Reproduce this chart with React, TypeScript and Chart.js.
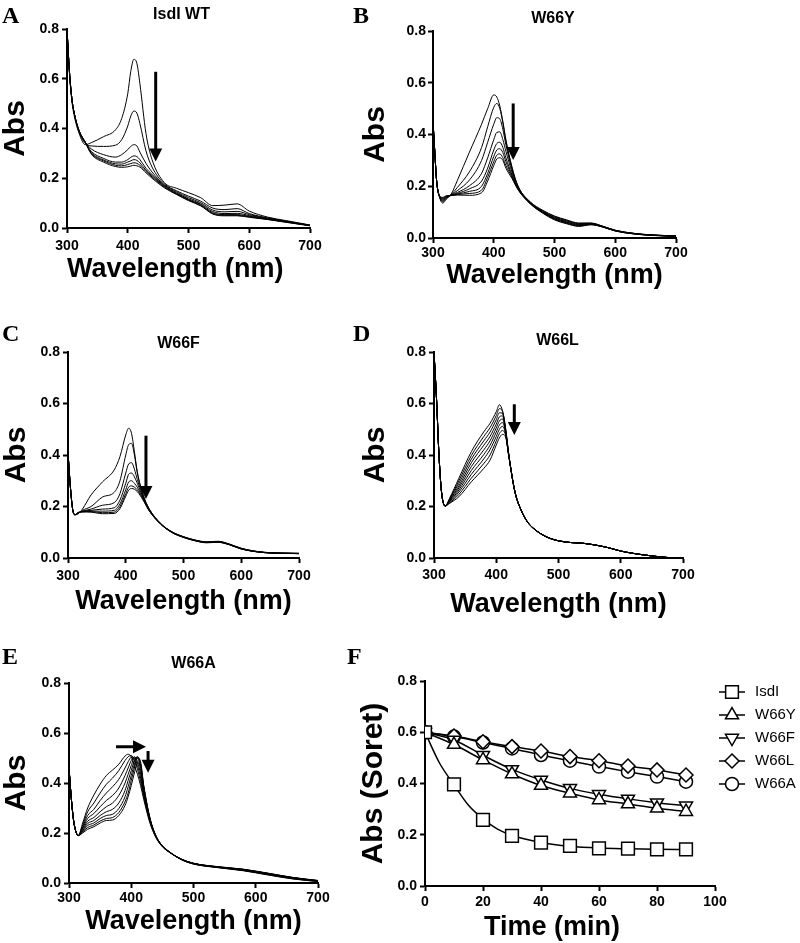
import React, { useEffect, useRef } from "react";
import { Chart, registerables } from "chart.js";

Chart.register(...registerables);

const SANS = "'Liberation Sans', Arial, Helvetica, sans-serif";
const SERIF = "'Liberation Serif', 'Times New Roman', Times, serif";

// ---------------- tick labels ----------------
const ABS_TICKS = [0, 0.2, 0.4, 0.6, 0.8];
const WL_TICKS = [300, 400, 500, 600, 700];
const TIME_TICKS = [0, 20, 40, 60, 80, 100];

// ---------------- Panel A: IsdI WT ----------------
const WL_A = [300, 304, 308, 312, 320, 330, 340, 360, 380, 390, 400, 405, 410, 415, 420, 430, 440, 460, 480, 500, 520, 540, 560, 580, 600, 630, 660, 700];
const A_1 = [0.80, 0.62, 0.51, 0.45, 0.38, 0.335, 0.343, 0.367, 0.395, 0.44, 0.54, 0.63, 0.678, 0.662, 0.58, 0.38, 0.275, 0.183, 0.16, 0.142, 0.122, 0.09, 0.092, 0.097, 0.068, 0.044, 0.03, 0.012];
const A_2 = [0.80, 0.63, 0.52, 0.46, 0.385, 0.34, 0.33, 0.328, 0.333, 0.355, 0.41, 0.45, 0.47, 0.462, 0.42, 0.31, 0.245, 0.178, 0.15, 0.128, 0.108, 0.08, 0.074, 0.078, 0.058, 0.041, 0.028, 0.011];
const A_3 = [0.80, 0.63, 0.52, 0.46, 0.39, 0.345, 0.318, 0.295, 0.285, 0.295, 0.315, 0.328, 0.335, 0.33, 0.305, 0.26, 0.225, 0.174, 0.146, 0.122, 0.102, 0.072, 0.065, 0.067, 0.054, 0.039, 0.027, 0.011];
const A_4 = [0.80, 0.63, 0.52, 0.46, 0.39, 0.345, 0.308, 0.28, 0.265, 0.265, 0.275, 0.284, 0.29, 0.287, 0.275, 0.24, 0.215, 0.171, 0.142, 0.117, 0.097, 0.066, 0.058, 0.059, 0.05, 0.037, 0.026, 0.01];
const A_5 = [0.80, 0.63, 0.52, 0.46, 0.39, 0.345, 0.303, 0.274, 0.258, 0.257, 0.265, 0.27, 0.275, 0.272, 0.262, 0.232, 0.21, 0.168, 0.139, 0.114, 0.094, 0.061, 0.054, 0.054, 0.047, 0.036, 0.025, 0.01];
const A_6 = [0.80, 0.63, 0.52, 0.46, 0.39, 0.345, 0.3, 0.27, 0.252, 0.25, 0.255, 0.259, 0.262, 0.26, 0.252, 0.227, 0.205, 0.165, 0.137, 0.112, 0.091, 0.058, 0.051, 0.051, 0.045, 0.035, 0.024, 0.009];
const A_7 = [0.80, 0.63, 0.52, 0.46, 0.39, 0.345, 0.297, 0.265, 0.247, 0.244, 0.246, 0.249, 0.252, 0.25, 0.245, 0.222, 0.2, 0.162, 0.135, 0.11, 0.089, 0.056, 0.049, 0.049, 0.043, 0.034, 0.023, 0.009];
const ARROWS_A = [[446, 0.628, 446, 0.267]];

// ---------------- Panel B: W66Y ----------------
const WL_B = [300, 303, 306, 310, 316, 322, 330, 340, 360, 380, 390, 400, 405, 410, 415, 420, 430, 440, 460, 480, 500, 520, 540, 560, 580, 600, 630, 660, 700];
const B_1 = [0.45, 0.33, 0.22, 0.165, 0.135, 0.15, 0.17, 0.222, 0.332, 0.44, 0.5, 0.553, 0.545, 0.51, 0.45, 0.38, 0.275, 0.2, 0.14, 0.108, 0.085, 0.07, 0.058, 0.058, 0.045, 0.03, 0.018, 0.012, 0.008];
const B_2 = [0.45, 0.33, 0.22, 0.165, 0.14, 0.153, 0.168, 0.195, 0.256, 0.35, 0.43, 0.505, 0.52, 0.5, 0.445, 0.375, 0.27, 0.2, 0.138, 0.106, 0.083, 0.068, 0.056, 0.057, 0.045, 0.03, 0.018, 0.012, 0.008];
const B_3 = [0.45, 0.33, 0.22, 0.165, 0.144, 0.156, 0.167, 0.183, 0.224, 0.3, 0.37, 0.44, 0.465, 0.46, 0.42, 0.36, 0.265, 0.198, 0.137, 0.104, 0.08, 0.066, 0.054, 0.056, 0.044, 0.029, 0.018, 0.011, 0.008];
const B_4 = [0.45, 0.33, 0.22, 0.165, 0.147, 0.158, 0.166, 0.176, 0.202, 0.25, 0.31, 0.38, 0.408, 0.41, 0.38, 0.335, 0.255, 0.195, 0.136, 0.102, 0.078, 0.063, 0.052, 0.055, 0.044, 0.029, 0.017, 0.011, 0.007];
const B_5 = [0.45, 0.33, 0.22, 0.165, 0.15, 0.16, 0.165, 0.172, 0.19, 0.22, 0.27, 0.34, 0.365, 0.37, 0.35, 0.31, 0.245, 0.192, 0.135, 0.1, 0.076, 0.061, 0.05, 0.054, 0.043, 0.028, 0.017, 0.011, 0.007];
const B_6 = [0.45, 0.33, 0.22, 0.165, 0.152, 0.161, 0.165, 0.17, 0.18, 0.2, 0.25, 0.315, 0.34, 0.345, 0.33, 0.295, 0.24, 0.19, 0.134, 0.099, 0.074, 0.059, 0.048, 0.053, 0.043, 0.028, 0.017, 0.011, 0.007];
const B_7 = [0.45, 0.33, 0.22, 0.165, 0.155, 0.162, 0.164, 0.168, 0.172, 0.185, 0.235, 0.295, 0.32, 0.325, 0.31, 0.28, 0.235, 0.188, 0.133, 0.098, 0.072, 0.057, 0.046, 0.052, 0.042, 0.027, 0.016, 0.01, 0.007];
const B_8 = [0.45, 0.33, 0.22, 0.165, 0.157, 0.163, 0.164, 0.166, 0.165, 0.175, 0.22, 0.28, 0.305, 0.31, 0.3, 0.27, 0.23, 0.186, 0.132, 0.097, 0.07, 0.055, 0.045, 0.051, 0.042, 0.027, 0.016, 0.01, 0.007];
const ARROWS_B = [[432, 0.52, 432, 0.301]];

// ---------------- Panel C: W66F ----------------
const WL_C = [300, 304, 308, 312, 318, 325, 340, 360, 380, 390, 400, 405, 410, 415, 420, 430, 440, 460, 480, 500, 520, 540, 560, 580, 600, 640, 700];
const C_1 = [0.41, 0.28, 0.19, 0.168, 0.172, 0.19, 0.245, 0.296, 0.342, 0.394, 0.478, 0.504, 0.484, 0.413, 0.335, 0.245, 0.193, 0.135, 0.102, 0.083, 0.07, 0.063, 0.065, 0.054, 0.038, 0.022, 0.018];
const C_2 = [0.41, 0.28, 0.19, 0.168, 0.174, 0.185, 0.2, 0.237, 0.255, 0.3, 0.4, 0.44, 0.445, 0.4, 0.33, 0.245, 0.193, 0.135, 0.101, 0.082, 0.069, 0.062, 0.064, 0.053, 0.037, 0.022, 0.018];
const C_3 = [0.41, 0.28, 0.19, 0.168, 0.175, 0.182, 0.19, 0.205, 0.215, 0.25, 0.33, 0.365, 0.37, 0.345, 0.305, 0.24, 0.19, 0.134, 0.101, 0.082, 0.069, 0.062, 0.063, 0.053, 0.037, 0.022, 0.018];
const C_4 = [0.41, 0.28, 0.19, 0.168, 0.176, 0.181, 0.185, 0.19, 0.195, 0.225, 0.29, 0.325, 0.33, 0.315, 0.29, 0.235, 0.188, 0.134, 0.1, 0.081, 0.068, 0.061, 0.063, 0.052, 0.036, 0.021, 0.017];
const C_5 = [0.41, 0.28, 0.19, 0.168, 0.176, 0.18, 0.182, 0.182, 0.185, 0.21, 0.265, 0.295, 0.3, 0.29, 0.275, 0.232, 0.187, 0.133, 0.1, 0.081, 0.068, 0.06, 0.062, 0.052, 0.036, 0.021, 0.017];
const C_6 = [0.41, 0.28, 0.19, 0.168, 0.177, 0.179, 0.18, 0.176, 0.178, 0.2, 0.25, 0.275, 0.28, 0.275, 0.265, 0.228, 0.186, 0.133, 0.099, 0.08, 0.067, 0.06, 0.061, 0.051, 0.035, 0.021, 0.017];
const C_7 = [0.41, 0.28, 0.19, 0.168, 0.177, 0.179, 0.178, 0.172, 0.173, 0.192, 0.24, 0.263, 0.27, 0.267, 0.258, 0.225, 0.185, 0.132, 0.099, 0.08, 0.067, 0.059, 0.061, 0.051, 0.035, 0.021, 0.017];
const ARROWS_C = [[435, 0.475, 435, 0.229]];

// ---------------- Panel D: W66L ----------------
const WL_D = [300, 304, 308, 312, 318, 325, 340, 360, 380, 390, 400, 405, 410, 415, 420, 430, 440, 450, 460, 480, 500, 520, 540, 560, 580, 600, 620, 650, 680, 700];
const D_1 = [0.8, 0.62, 0.4, 0.258, 0.202, 0.232, 0.31, 0.413, 0.49, 0.523, 0.568, 0.595, 0.572, 0.505, 0.405, 0.258, 0.186, 0.141, 0.115, 0.083, 0.067, 0.06, 0.057, 0.05, 0.04, 0.027, 0.018, 0.008, 0.001, 0];
const D_2 = [0.8, 0.62, 0.4, 0.258, 0.202, 0.229, 0.3, 0.398, 0.472, 0.506, 0.553, 0.58, 0.57, 0.502, 0.404, 0.258, 0.186, 0.141, 0.115, 0.083, 0.067, 0.06, 0.057, 0.05, 0.04, 0.027, 0.018, 0.008, 0.001, 0];
const D_3 = [0.8, 0.62, 0.4, 0.258, 0.202, 0.227, 0.29, 0.384, 0.455, 0.489, 0.537, 0.564, 0.562, 0.498, 0.403, 0.258, 0.186, 0.141, 0.115, 0.083, 0.067, 0.06, 0.057, 0.05, 0.04, 0.027, 0.018, 0.008, 0.001, 0];
const D_4 = [0.8, 0.62, 0.4, 0.258, 0.202, 0.224, 0.28, 0.37, 0.438, 0.472, 0.52, 0.548, 0.552, 0.494, 0.402, 0.257, 0.186, 0.141, 0.115, 0.083, 0.067, 0.06, 0.057, 0.05, 0.04, 0.027, 0.018, 0.008, 0.001, 0];
const D_5 = [0.8, 0.62, 0.4, 0.258, 0.202, 0.222, 0.272, 0.355, 0.42, 0.455, 0.505, 0.532, 0.54, 0.49, 0.401, 0.257, 0.185, 0.141, 0.115, 0.083, 0.067, 0.06, 0.057, 0.05, 0.04, 0.027, 0.018, 0.008, 0.001, 0];
const D_6 = [0.8, 0.62, 0.4, 0.258, 0.202, 0.219, 0.264, 0.34, 0.402, 0.438, 0.489, 0.516, 0.526, 0.486, 0.4, 0.257, 0.185, 0.141, 0.114, 0.083, 0.067, 0.06, 0.057, 0.05, 0.04, 0.027, 0.018, 0.008, 0.001, 0];
const D_7 = [0.8, 0.62, 0.4, 0.258, 0.202, 0.217, 0.256, 0.325, 0.385, 0.421, 0.472, 0.5, 0.511, 0.482, 0.399, 0.256, 0.185, 0.14, 0.114, 0.083, 0.067, 0.06, 0.057, 0.05, 0.04, 0.027, 0.018, 0.008, 0.001, 0];
const D_8 = [0.8, 0.62, 0.4, 0.258, 0.202, 0.214, 0.247, 0.31, 0.367, 0.4, 0.455, 0.483, 0.495, 0.476, 0.398, 0.256, 0.185, 0.14, 0.114, 0.082, 0.066, 0.06, 0.057, 0.05, 0.04, 0.027, 0.018, 0.008, 0.001, 0];
const D_9 = [0.8, 0.62, 0.4, 0.258, 0.202, 0.212, 0.238, 0.296, 0.348, 0.38, 0.439, 0.466, 0.48, 0.47, 0.397, 0.256, 0.185, 0.14, 0.114, 0.082, 0.066, 0.06, 0.057, 0.05, 0.04, 0.027, 0.018, 0.008, 0.001, 0];
const ARROWS_D = [[429, 0.597, 429, 0.478]];

// ---------------- Panel E: W66A ----------------
const WL_E = [300, 304, 308, 315, 322, 330, 340, 350, 360, 370, 380, 390, 395, 400, 405, 410, 415, 420, 430, 440, 450, 460, 480, 500, 540, 580, 620, 660, 700];
const E_1 = [0.46, 0.33, 0.24, 0.19, 0.24, 0.3, 0.352, 0.395, 0.43, 0.452, 0.475, 0.508, 0.515, 0.505, 0.47, 0.435, 0.39, 0.335, 0.24, 0.18, 0.145, 0.125, 0.096, 0.079, 0.065, 0.055, 0.039, 0.022, 0.01];
const E_2 = [0.46, 0.33, 0.24, 0.19, 0.232, 0.285, 0.32, 0.36, 0.395, 0.42, 0.45, 0.49, 0.505, 0.51, 0.49, 0.455, 0.405, 0.345, 0.245, 0.182, 0.146, 0.125, 0.096, 0.079, 0.065, 0.055, 0.039, 0.022, 0.01];
const E_3 = [0.46, 0.33, 0.24, 0.19, 0.225, 0.27, 0.295, 0.33, 0.36, 0.385, 0.415, 0.46, 0.485, 0.503, 0.5, 0.47, 0.42, 0.355, 0.248, 0.183, 0.147, 0.126, 0.096, 0.079, 0.064, 0.054, 0.038, 0.021, 0.009];
const E_4 = [0.46, 0.33, 0.24, 0.19, 0.22, 0.258, 0.278, 0.305, 0.33, 0.35, 0.38, 0.43, 0.46, 0.49, 0.505, 0.485, 0.435, 0.362, 0.251, 0.184, 0.147, 0.126, 0.096, 0.078, 0.064, 0.054, 0.037, 0.021, 0.009];
const E_5 = [0.46, 0.33, 0.24, 0.19, 0.215, 0.247, 0.262, 0.285, 0.305, 0.32, 0.35, 0.4, 0.435, 0.47, 0.5, 0.5, 0.45, 0.37, 0.254, 0.185, 0.148, 0.126, 0.095, 0.078, 0.063, 0.053, 0.036, 0.02, 0.008];
const E_6 = [0.46, 0.33, 0.24, 0.19, 0.21, 0.238, 0.25, 0.27, 0.285, 0.295, 0.32, 0.37, 0.41, 0.45, 0.49, 0.505, 0.465, 0.378, 0.256, 0.186, 0.148, 0.127, 0.095, 0.077, 0.063, 0.052, 0.035, 0.019, 0.008];
const E_7 = [0.46, 0.33, 0.24, 0.19, 0.207, 0.23, 0.24, 0.258, 0.27, 0.275, 0.298, 0.345, 0.385, 0.43, 0.475, 0.505, 0.478, 0.385, 0.258, 0.186, 0.149, 0.127, 0.095, 0.077, 0.062, 0.051, 0.034, 0.018, 0.007];
const E_8 = [0.46, 0.33, 0.24, 0.19, 0.204, 0.222, 0.232, 0.248, 0.258, 0.262, 0.282, 0.325, 0.36, 0.41, 0.46, 0.5, 0.485, 0.39, 0.26, 0.187, 0.149, 0.127, 0.094, 0.076, 0.062, 0.05, 0.033, 0.017, 0.006];
const E_9 = [0.46, 0.33, 0.24, 0.19, 0.2, 0.215, 0.225, 0.24, 0.25, 0.252, 0.27, 0.31, 0.345, 0.39, 0.44, 0.48, 0.47, 0.39, 0.26, 0.186, 0.149, 0.127, 0.094, 0.076, 0.061, 0.049, 0.032, 0.016, 0.006];
const ARROWS_E = [[375.5, 0.545, 423.7, 0.545], [427, 0.528, 427, 0.441]];

// ---------------- Panel F: Soret kinetics ----------------
const TIME_MIN = [0, 10, 20, 30, 40, 50, 60, 70, 80, 90];
const SORET_ISDI = [0.6, 0.397, 0.258, 0.196, 0.169, 0.157, 0.147, 0.146, 0.143, 0.143];
const SORET_W66Y = [0.6, 0.552, 0.492, 0.437, 0.392, 0.362, 0.336, 0.32, 0.303, 0.29];
const SORET_W66F = [0.6, 0.57, 0.51, 0.455, 0.414, 0.381, 0.358, 0.34, 0.325, 0.313];
const SORET_W66L = [0.6, 0.585, 0.563, 0.544, 0.527, 0.505, 0.489, 0.468, 0.453, 0.433];
const SORET_W66A = [0.6, 0.583, 0.56, 0.537, 0.511, 0.489, 0.466, 0.446, 0.427, 0.407];
const KIN_LABELS = ["IsdI", "W66Y", "W66F", "W66L", "W66A"];
// fitted decay curve of IsdI
const FIT_TIME_ISDI = [0, 5, 10, 15, 20, 25, 30, 40, 50, 60, 70, 80, 90];
const FIT_ISDI = [0.6, 0.48, 0.395, 0.315, 0.262, 0.222, 0.198, 0.17, 0.155, 0.148, 0.145, 0.143, 0.142];

// ---------------- helpers ----------------
function spectraDatasets(wl: number[], curves: number[][]) {
  return curves.map((vals, k) => ({
    label: "t" + k,
    data: wl.map((w, i) => ({ x: w, y: vals[i] })),
    borderColor: "#000",
    borderWidth: 1,
    pointRadius: 0,
    fill: false,
    cubicInterpolationMode: "monotone",
  }));
}

const KIN_STYLES = [
  { pointStyle: "rect", rotation: 0, radius: 9 },
  { pointStyle: "triangle", rotation: 0, radius: 7.5 },
  { pointStyle: "triangle", rotation: 180, radius: 7.5 },
  { pointStyle: "rectRot", rotation: 0, radius: 7 },
  { pointStyle: "circle", rotation: 0, radius: 6.5 },
];

function kineticsDatasets() {
  const series = [SORET_ISDI, SORET_W66Y, SORET_W66F, SORET_W66L, SORET_W66A];
  const lines = series.map((vals, k) => {
    const xs = k === 0 ? FIT_TIME_ISDI : TIME_MIN;
    const ys = k === 0 ? FIT_ISDI : vals;
    return {
      label: KIN_LABELS[k] + " fit",
      isFit: true,
      order: 10,
      data: xs.map((t, i) => ({ x: t, y: ys[i] })),
      borderColor: "#000",
      borderWidth: 1.5,
      pointRadius: 0,
      fill: false,
      cubicInterpolationMode: "monotone",
    };
  });
  const marks = series.map((vals, k) => ({
    label: KIN_LABELS[k],
    isFit: false,
    order: k,
    showLine: false,
    data: TIME_MIN.map((t, i) => ({ x: t, y: vals[i] })),
    borderColor: "#000",
    pointStyle: KIN_STYLES[k].pointStyle,
    pointRotation: KIN_STYLES[k].rotation,
    pointRadius: KIN_STYLES[k].radius,
    pointBackgroundColor: "#fff",
    pointBorderColor: "#000",
    pointBorderWidth: 1.5,
    fill: false,
  }));
  return [...lines, ...marks];
}

function drawMarker(ctx: CanvasRenderingContext2D, style: string, rotDeg: number, x: number, y: number, r: number) {
  ctx.beginPath();
  if (style === "rect") {
    const s = r * Math.SQRT1_2;
    ctx.rect(x - s, y - s, 2 * s, 2 * s);
  } else if (style === "triangle") {
    let a = (rotDeg * Math.PI) / 180;
    ctx.moveTo(x + Math.sin(a) * r, y - Math.cos(a) * r);
    a += (2 * Math.PI) / 3;
    ctx.lineTo(x + Math.sin(a) * r, y - Math.cos(a) * r);
    a += (2 * Math.PI) / 3;
    ctx.lineTo(x + Math.sin(a) * r, y - Math.cos(a) * r);
    ctx.closePath();
  } else if (style === "rectRot") {
    ctx.moveTo(x, y - r);
    ctx.lineTo(x + r, y);
    ctx.lineTo(x, y + r);
    ctx.lineTo(x - r, y);
    ctx.closePath();
  } else {
    ctx.arc(x, y, r, 0, Math.PI * 2);
  }
  ctx.fillStyle = "#fff";
  ctx.fill();
  ctx.strokeStyle = "#000";
  ctx.lineWidth = 1.5;
  ctx.stroke();
}

function arrowPlugin(list: number[][]) {
  return {
    id: "arrows",
    afterDatasetsDraw(chart: any) {
      const { ctx } = chart;
      const xs = chart.scales.x;
      const ys = chart.scales.y;
      ctx.save();
      ctx.fillStyle = "#000";
      ctx.strokeStyle = "#000";
      ctx.lineWidth = 3;
      for (const a of list) {
        const x1 = xs.getPixelForValue(a[0]);
        const y1 = ys.getPixelForValue(a[1]);
        const x2 = xs.getPixelForValue(a[2]);
        const y2 = ys.getPixelForValue(a[3]);
        const ang = Math.atan2(y2 - y1, x2 - x1);
        const head = 13;
        const half = 6.5;
        const cs = Math.cos(ang);
        const sn = Math.sin(ang);
        const bx = x2 - head * cs;
        const by = y2 - head * sn;
        ctx.beginPath();
        ctx.moveTo(x1, y1);
        ctx.lineTo(bx + cs, by + sn);
        ctx.stroke();
        ctx.beginPath();
        ctx.moveTo(x2, y2);
        ctx.lineTo(bx - half * sn, by + half * cs);
        ctx.lineTo(bx + half * sn, by - half * cs);
        ctx.closePath();
        ctx.fill();
      }
      ctx.restore();
    },
  };
}

function legendPlugin(pos: { x: number; y: number; dy: number; len: number; textX: number }) {
  return {
    id: "kinLegend",
    afterDraw(chart: any) {
      const { ctx } = chart;
      const items = chart.data.datasets.filter((ds: any) => !ds.isFit);
      items.forEach((ds: any, i: number) => {
        const cy = pos.y + i * pos.dy;
        ctx.save();
        ctx.strokeStyle = "#000";
        ctx.lineWidth = 1.5;
        ctx.beginPath();
        ctx.moveTo(pos.x, cy);
        ctx.lineTo(pos.x + pos.len, cy);
        ctx.stroke();
        drawMarker(ctx, ds.pointStyle, ds.pointRotation, pos.x + pos.len / 2, cy, ds.pointRadius);
        ctx.fillStyle = "#000";
        ctx.font = `15px ${SANS}`;
        ctx.textBaseline = "middle";
        ctx.textAlign = "left";
        ctx.fillText(ds.label, pos.textX, cy);
        ctx.restore();
      });
    },
  };
}

type Spec = {
  id: string;
  left: number;
  top: number;
  width: number;
  height: number;
  area: [number, number, number, number];
  datasets: any[];
  xMin: number;
  xMax: number;
  xTicks: number[];
  xTitle: string | null;
  xTitleAlign: "start" | "center";
  xTitleCy: number;
  yTitle: string;
  yTitleCx: number;
  xTickPad: number;
  yTickPad: number;
  arrows: number[][];
  legend?: { x: number; y: number; dy: number; len: number; textX: number };
};

const SPECS: Spec[] = [
  {
    id: "A", left: 0, top: 0, width: 355, height: 300, area: [67, 29, 310, 228],
    datasets: spectraDatasets(WL_A, [A_1, A_2, A_3, A_4, A_5, A_6, A_7]),
    xMin: 300, xMax: 700, xTicks: WL_TICKS, xTitle: "Wavelength (nm)", xTitleAlign: "start", xTitleCy: 270,
    yTitle: "Abs", yTitleCx: 16, xTickPad: 5, yTickPad: 3, arrows: ARROWS_A,
  },
  {
    id: "B", left: 355, top: 0, width: 445, height: 300, area: [433, 31, 676, 238],
    datasets: spectraDatasets(WL_B, [B_1, B_2, B_3, B_4, B_5, B_6, B_7, B_8]),
    xMin: 300, xMax: 700, xTicks: WL_TICKS, xTitle: "Wavelength (nm)", xTitleAlign: "center", xTitleCy: 276,
    yTitle: "Abs", yTitleCx: 376, xTickPad: 2, yTickPad: 2, arrows: ARROWS_B,
  },
  {
    id: "C", left: 0, top: 300, width: 355, height: 320, area: [68, 352, 299, 558],
    datasets: spectraDatasets(WL_C, [C_1, C_2, C_3, C_4, C_5, C_6, C_7]),
    xMin: 300, xMax: 700, xTicks: WL_TICKS, xTitle: "Wavelength (nm)", xTitleAlign: "center", xTitleCy: 602,
    yTitle: "Abs", yTitleCx: 16.5, xTickPad: 5, yTickPad: 3, arrows: ARROWS_C,
  },
  {
    id: "D", left: 355, top: 300, width: 445, height: 320, area: [434, 352, 683, 558],
    datasets: spectraDatasets(WL_D, [D_1, D_2, D_3, D_4, D_5, D_6, D_7, D_8, D_9]),
    xMin: 300, xMax: 700, xTicks: WL_TICKS, xTitle: "Wavelength (nm)", xTitleAlign: "center", xTitleCy: 605,
    yTitle: "Abs", yTitleCx: 376, xTickPad: 4, yTickPad: 3, arrows: ARROWS_D,
  },
  {
    id: "E", left: 0, top: 620, width: 355, height: 323, area: [69, 683, 318, 883],
    datasets: spectraDatasets(WL_E, [E_1, E_2, E_3, E_4, E_5, E_6, E_7, E_8, E_9]),
    xMin: 300, xMax: 700, xTicks: WL_TICKS, xTitle: "Wavelength (nm)", xTitleAlign: "center", xTitleCy: 922,
    yTitle: "Abs", yTitleCx: 16.5, xTickPad: 2, yTickPad: 3, arrows: ARROWS_E,
  },
  {
    id: "F", left: 355, top: 620, width: 445, height: 323, area: [425, 681, 715, 886],
    datasets: kineticsDatasets(),
    xMin: 0, xMax: 100, xTicks: TIME_TICKS, xTitle: null, xTitleAlign: "center", xTitleCy: 926,
    yTitle: "Abs (Soret)", yTitleCx: 374, xTickPad: 3, yTickPad: 3, arrows: [],
    legend: { x: 719 - 355, y: 692 - 620, dy: 23, len: 26, textX: 755 - 355 },
  },
];

function buildChart(canvas: HTMLCanvasElement, spec: Spec) {
  const [ax0, ay0, ax1, ay1] = spec.area;
  const padTop = ay0 - spec.top;
  const padRight = spec.left + spec.width - ax1;
  const yAxisW = ax0 - spec.left;
  const xAxisH = spec.top + spec.height - ay1;
  const tickFont = { family: SANS, size: 14, weight: "bold" as const };
  const grid = {
    display: true,
    drawOnChartArea: false,
    drawTicks: true,
    tickLength: 5,
    tickWidth: 2,
    tickColor: "#000",
    color: "#000",
  };
  const border = { display: true, color: "#000", width: 2 };
  const plugins: any[] = [arrowPlugin(spec.arrows)];
  if (spec.legend) plugins.push(legendPlugin(spec.legend));

  return new Chart(canvas, {
    type: "line",
    data: { datasets: spec.datasets },
    plugins,
    options: {
      responsive: false,
      maintainAspectRatio: false,
      animation: false,
      events: [],
      layout: { padding: { top: padTop, right: padRight, bottom: 0, left: 0 } },
      plugins: {
        legend: { display: false },
        tooltip: { enabled: false },
        title: { display: false },
      },
      scales: {
        x: {
          type: "linear",
          min: spec.xMin,
          max: spec.xMax,
          afterBuildTicks: (s: any) => {
            s.ticks = spec.xTicks.map((v) => ({ value: v }));
          },
          afterFit: (s: any) => {
            s.height = xAxisH;
          },
          ticks: {
            font: tickFont,
            color: "#000",
            padding: spec.xTickPad,
            maxRotation: 0,
            autoSkip: false,
            callback: (v: any) => String(v),
          },
          grid,
          border,
          title: spec.xTitle
            ? {
                display: true,
                text: spec.xTitle,
                color: "#000",
                align: spec.xTitleAlign,
                font: { family: SANS, size: 27, weight: "bold", lineHeight: 1 },
                padding: { top: 0, bottom: spec.top + spec.height - spec.xTitleCy - 13.5 },
              }
            : { display: false },
        },
        y: {
          type: "linear",
          min: 0,
          max: 0.8,
          afterBuildTicks: (s: any) => {
            s.ticks = ABS_TICKS.map((v) => ({ value: v }));
          },
          afterFit: (s: any) => {
            s.width = yAxisW;
          },
          ticks: {
            font: tickFont,
            color: "#000",
            padding: spec.yTickPad,
            autoSkip: false,
            callback: (v: any) => Number(v).toFixed(1),
          },
          grid,
          border,
          title: {
            display: true,
            text: spec.yTitle,
            color: "#000",
            font: { family: SANS, size: 30, weight: "bold", lineHeight: 1 },
            padding: { top: spec.yTitleCx - spec.left - 15, bottom: 0 },
          },
        },
      },
    },
  } as any);
}

function Panel({ spec }: { spec: Spec }) {
  const ref = useRef<HTMLCanvasElement | null>(null);
  useEffect(() => {
    if (!ref.current) return;
    const chart = buildChart(ref.current, spec);
    return () => chart.destroy();
  }, [spec]);
  return (
    <canvas
      ref={ref}
      width={spec.width}
      height={spec.height}
      style={{ position: "absolute", left: spec.left, top: spec.top, width: spec.width, height: spec.height }}
    />
  );
}

const LETTERS = [
  { t: "A", x: 2, y: 3 },
  { t: "B", x: 353, y: 3 },
  { t: "C", x: 2, y: 321 },
  { t: "D", x: 353, y: 321 },
  { t: "E", x: 2, y: 644 },
  { t: "F", x: 347, y: 644 },
];

const HEADINGS = [
  { t: "IsdI WT", cx: 181.5, y: 6 },
  { t: "W66Y", cx: 553, y: 10 },
  { t: "W66F", cx: 178.5, y: 335 },
  { t: "W66L", cx: 557.5, y: 332 },
  { t: "W66A", cx: 193.5, y: 655 },
];

export default function App() {
  return (
    <div style={{ position: "absolute", left: 0, top: 0, width: 800, height: 943, background: "#fff", overflow: "hidden" }}>
      {SPECS.map((s) => (
        <Panel key={s.id} spec={s} />
      ))}
      {LETTERS.map((l) => (
        <div
          key={l.t}
          style={{ position: "absolute", left: l.x, top: l.y, fontFamily: SERIF, fontWeight: "bold", fontSize: 24, lineHeight: "24px", color: "#000" }}
        >
          {l.t}
        </div>
      ))}
      {HEADINGS.map((h) => (
        <div
          key={h.t}
          style={{
            position: "absolute",
            left: h.cx,
            top: h.y,
            transform: "translateX(-50%)",
            whiteSpace: "nowrap",
            fontFamily: SANS,
            fontWeight: "bold",
            fontSize: 16,
            lineHeight: "16px",
            color: "#000",
          }}
        >
          {h.t}
        </div>
      ))}
      <div
        style={{
          position: "absolute",
          left: 552,
          top: 912.5,
          transform: "translateX(-50%)",
          whiteSpace: "nowrap",
          fontFamily: SANS,
          fontWeight: "bold",
          fontSize: 27,
          lineHeight: "27px",
          color: "#000",
        }}
      >
        Time (min)
      </div>
    </div>
  );
}
